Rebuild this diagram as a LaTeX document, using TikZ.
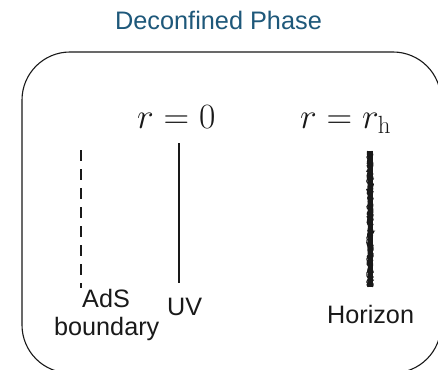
\RequirePackage{fix-cm}
\documentclass[tikz,border=0pt]{standalone}
\usepackage{fontspec}
\setsansfont{Liberation Sans}
\usetikzlibrary{decorations.pathmorphing}
\definecolor{titleblue}{RGB}{30,88,122}
\definecolor{ink}{RGB}{25,25,25}
\tikzset{
  lbl/.style={anchor=base west, inner sep=0pt, font=\sffamily\fontsize{25.2}{29}\selectfont, text=ink},
  mathlbl/.style={anchor=base west, inner sep=0pt, font=\fontsize{35.5}{42}\selectfont, text=ink},
  frame/.style={draw=ink, line width=1.1pt, rounded corners=48pt},
}
\begin{document}
\begin{tikzpicture}[x=1pt,y=1pt]
\useasboundingbox (0,0) rectangle (438,-369);
\clip (0,0) rectangle (438,-369);
\fill[white] (0,0) rectangle (438,-369);
% title
\node[anchor=base, inner sep=0pt, font=\sffamily\fontsize{25.3}{30}\selectfont, text=titleblue] (title) at (218.5,-30) {Deconfined Phase};
% frame
\draw[frame] (22,-52) rectangle (441,-373);
% math labels
\node[mathlbl] (r0) at (137,-128) {$r=0$};
\node[mathlbl] (rh) at (300,-128) {$r=r_{\mathrm{h}}$};
% lines
\coordinate (adsT) at (81,-150);
\coordinate (adsB) at (81,-288);
\coordinate (uvT) at (179,-143);
\coordinate (uvB) at (179,-283);
\coordinate (hT) at (370,-151);
\coordinate (hB) at (370,-287);
\draw[ink, line width=1.6pt, dash pattern=on 11pt off 8pt] (adsT) -- (adsB);
\draw[ink, line width=1.8pt] (uvT) -- (uvB);
\draw[ink, line width=5pt] (hT) -- (hB);
\draw[ink, line width=1.2pt, decorate, decoration={random steps, segment length=1.5pt, amplitude=0.9pt}] ([xshift=-2.3pt]hT) -- ([xshift=-2.3pt]hB);
\draw[ink, line width=1.2pt, decorate, decoration={random steps, segment length=1.5pt, amplitude=0.9pt}] ([xshift=2.3pt]hT) -- ([xshift=2.3pt]hB);
% text labels
\node[lbl] (ads) at (82,-307) {AdS};
\node[lbl] (bdy) at (54,-335) {boundary};
\node[lbl] (uv) at (167,-315) {UV};
\node[lbl] (hor) at (327,-323) {Horizon};
\end{tikzpicture}
\end{document}
